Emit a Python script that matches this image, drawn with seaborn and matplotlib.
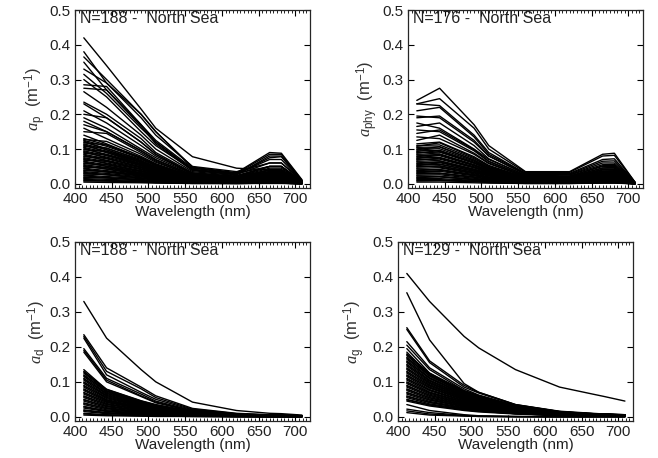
import numpy as np
import pandas as pd
import matplotlib
matplotlib.use("Agg")
import matplotlib.pyplot as plt
from matplotlib.ticker import MultipleLocator, FormatStrFormatter
import seaborn as sns

# band centres (nm)
wavelengths = [412, 443, 490, 510, 560, 620, 665, 681, 709]

# particulate absorption, one row per station
ap_spectra = [
    [0.420, 0.340, 0.215, 0.160, 0.078, 0.045, 0.040, 0.036, 0.008],
    [0.380, 0.290, 0.190, 0.140, 0.050, 0.035, 0.060, 0.060, 0.010],
    [0.365, 0.300, 0.200, 0.150, 0.048, 0.032, 0.090, 0.088, 0.012],
    [0.350, 0.270, 0.170, 0.125, 0.045, 0.030, 0.050, 0.050, 0.008],
    [0.330, 0.290, 0.200, 0.150, 0.046, 0.030, 0.085, 0.085, 0.010],
    [0.315, 0.260, 0.160, 0.120, 0.042, 0.028, 0.070, 0.070, 0.008],
    [0.300, 0.250, 0.150, 0.110, 0.040, 0.027, 0.060, 0.060, 0.007],
    [0.285, 0.280, 0.170, 0.120, 0.040, 0.028, 0.075, 0.078, 0.008],
    [0.275, 0.270, 0.165, 0.115, 0.038, 0.026, 0.080, 0.080, 0.008],
    [0.265, 0.220, 0.140, 0.100, 0.035, 0.024, 0.050, 0.050, 0.006],
    [0.235, 0.200, 0.130, 0.090, 0.032, 0.022, 0.050, 0.050, 0.006],
    [0.230, 0.190, 0.120, 0.085, 0.030, 0.020, 0.045, 0.045, 0.005],
    [0.210, 0.175, 0.110, 0.080, 0.030, 0.020, 0.040, 0.040, 0.005],
    [0.200, 0.190, 0.120, 0.085, 0.028, 0.020, 0.050, 0.050, 0.005],
    [0.190, 0.160, 0.100, 0.075, 0.028, 0.018, 0.040, 0.040, 0.005],
    [0.180, 0.150, 0.095, 0.070, 0.026, 0.017, 0.035, 0.035, 0.004],
    [0.170, 0.150, 0.095, 0.068, 0.025, 0.017, 0.040, 0.040, 0.004],
    [0.160, 0.130, 0.085, 0.062, 0.024, 0.016, 0.030, 0.030, 0.004],
    [0.150, 0.145, 0.090, 0.065, 0.022, 0.015, 0.040, 0.040, 0.004],
    [0.140, 0.115, 0.075, 0.055, 0.022, 0.015, 0.028, 0.028, 0.003],
    [0.130, 0.112, 0.076, 0.056, 0.022, 0.016, 0.030, 0.030, 0.004],
    [0.125, 0.108, 0.073, 0.054, 0.021, 0.015, 0.028, 0.028, 0.004],
    [0.120, 0.102, 0.070, 0.052, 0.020, 0.014, 0.026, 0.026, 0.004],
    [0.115, 0.098, 0.066, 0.049, 0.020, 0.014, 0.025, 0.025, 0.003],
    [0.110, 0.094, 0.064, 0.047, 0.019, 0.013, 0.024, 0.024, 0.003],
    [0.105, 0.090, 0.061, 0.045, 0.018, 0.013, 0.023, 0.023, 0.003],
    [0.100, 0.085, 0.058, 0.043, 0.017, 0.012, 0.022, 0.022, 0.003],
    [0.095, 0.081, 0.055, 0.041, 0.016, 0.011, 0.021, 0.021, 0.003],
    [0.090, 0.077, 0.052, 0.039, 0.015, 0.011, 0.020, 0.020, 0.003],
    [0.085, 0.072, 0.049, 0.037, 0.014, 0.010, 0.019, 0.019, 0.003],
    [0.080, 0.068, 0.046, 0.034, 0.014, 0.010, 0.018, 0.018, 0.002],
    [0.075, 0.064, 0.043, 0.032, 0.013, 0.009, 0.017, 0.017, 0.002],
    [0.070, 0.060, 0.041, 0.030, 0.012, 0.008, 0.015, 0.015, 0.002],
    [0.065, 0.055, 0.038, 0.028, 0.011, 0.008, 0.014, 0.014, 0.002],
    [0.060, 0.051, 0.035, 0.026, 0.010, 0.007, 0.013, 0.013, 0.002],
    [0.055, 0.047, 0.032, 0.024, 0.009, 0.007, 0.012, 0.012, 0.002],
    [0.050, 0.043, 0.029, 0.022, 0.009, 0.006, 0.011, 0.011, 0.002],
    [0.045, 0.038, 0.026, 0.019, 0.008, 0.005, 0.010, 0.010, 0.001],
    [0.040, 0.034, 0.023, 0.017, 0.007, 0.005, 0.009, 0.009, 0.001],
    [0.035, 0.030, 0.020, 0.015, 0.006, 0.004, 0.008, 0.008, 0.001],
    [0.030, 0.026, 0.017, 0.013, 0.005, 0.004, 0.007, 0.007, 0.001],
    [0.025, 0.021, 0.015, 0.011, 0.004, 0.003, 0.006, 0.006, 0.001],
    [0.020, 0.017, 0.012, 0.009, 0.003, 0.002, 0.004, 0.004, 0.001],
    [0.015, 0.013, 0.009, 0.006, 0.003, 0.002, 0.003, 0.003, 0.000],
    [0.010, 0.008, 0.006, 0.004, 0.002, 0.001, 0.002, 0.002, 0.000],
    [0.005, 0.004, 0.003, 0.002, 0.001, 0.001, 0.001, 0.001, 0.000],
    [0.128, 0.122, 0.079, 0.058, 0.020, 0.015, 0.036, 0.036, 0.003],
    [0.118, 0.112, 0.073, 0.053, 0.019, 0.014, 0.033, 0.033, 0.002],
    [0.108, 0.103, 0.067, 0.049, 0.017, 0.013, 0.030, 0.030, 0.002],
    [0.098, 0.093, 0.061, 0.044, 0.016, 0.012, 0.027, 0.027, 0.002],
    [0.088, 0.084, 0.055, 0.040, 0.014, 0.011, 0.025, 0.025, 0.002],
    [0.078, 0.074, 0.048, 0.035, 0.012, 0.009, 0.022, 0.022, 0.002],
    [0.068, 0.065, 0.042, 0.031, 0.011, 0.008, 0.019, 0.019, 0.001],
    [0.058, 0.055, 0.036, 0.026, 0.009, 0.007, 0.016, 0.016, 0.001],
    [0.048, 0.046, 0.030, 0.022, 0.008, 0.006, 0.013, 0.013, 0.001],
    [0.038, 0.036, 0.024, 0.017, 0.006, 0.005, 0.011, 0.011, 0.001],
    [0.028, 0.027, 0.017, 0.013, 0.004, 0.003, 0.008, 0.008, 0.001],
    [0.018, 0.017, 0.011, 0.008, 0.003, 0.002, 0.005, 0.005, 0.000],
    [0.008, 0.008, 0.005, 0.004, 0.001, 0.001, 0.002, 0.002, 0.000],
    [0.123, 0.098, 0.062, 0.047, 0.022, 0.014, 0.018, 0.018, 0.004],
    [0.113, 0.090, 0.057, 0.043, 0.020, 0.012, 0.017, 0.017, 0.003],
    [0.103, 0.082, 0.052, 0.039, 0.019, 0.011, 0.015, 0.015, 0.003],
    [0.093, 0.074, 0.047, 0.035, 0.017, 0.010, 0.014, 0.014, 0.003],
    [0.083, 0.066, 0.042, 0.032, 0.015, 0.009, 0.012, 0.012, 0.002],
    [0.073, 0.058, 0.037, 0.028, 0.013, 0.008, 0.011, 0.011, 0.002],
    [0.063, 0.050, 0.032, 0.024, 0.011, 0.007, 0.009, 0.009, 0.002],
    [0.053, 0.042, 0.027, 0.020, 0.010, 0.006, 0.008, 0.008, 0.002],
    [0.043, 0.034, 0.022, 0.016, 0.008, 0.005, 0.006, 0.006, 0.001],
    [0.033, 0.026, 0.017, 0.013, 0.006, 0.004, 0.005, 0.005, 0.001],
    [0.023, 0.018, 0.012, 0.009, 0.004, 0.003, 0.003, 0.003, 0.001],
    [0.013, 0.010, 0.007, 0.005, 0.002, 0.001, 0.002, 0.002, 0.000],
]

# phytoplankton absorption
aphy_spectra = [
    [0.240, 0.275, 0.170, 0.110, 0.035, 0.035, 0.085, 0.088, 0.005],
    [0.230, 0.245, 0.160, 0.100, 0.033, 0.033, 0.080, 0.082, 0.005],
    [0.230, 0.225, 0.140, 0.090, 0.030, 0.030, 0.070, 0.072, 0.004],
    [0.210, 0.220, 0.135, 0.085, 0.030, 0.028, 0.065, 0.066, 0.004],
    [0.195, 0.190, 0.120, 0.080, 0.028, 0.026, 0.060, 0.060, 0.004],
    [0.190, 0.195, 0.125, 0.080, 0.027, 0.025, 0.055, 0.056, 0.004],
    [0.175, 0.160, 0.100, 0.070, 0.025, 0.022, 0.050, 0.050, 0.003],
    [0.165, 0.175, 0.110, 0.072, 0.024, 0.022, 0.052, 0.053, 0.003],
    [0.155, 0.150, 0.095, 0.064, 0.022, 0.020, 0.045, 0.045, 0.003],
    [0.145, 0.155, 0.098, 0.065, 0.022, 0.020, 0.046, 0.047, 0.003],
    [0.135, 0.130, 0.085, 0.058, 0.020, 0.018, 0.040, 0.040, 0.003],
    [0.125, 0.140, 0.088, 0.060, 0.020, 0.018, 0.042, 0.042, 0.003],
    [0.115, 0.120, 0.078, 0.053, 0.018, 0.017, 0.036, 0.037, 0.002],
    [0.110, 0.112, 0.072, 0.050, 0.018, 0.016, 0.036, 0.037, 0.002],
    [0.105, 0.106, 0.068, 0.047, 0.017, 0.016, 0.035, 0.036, 0.002],
    [0.100, 0.101, 0.065, 0.045, 0.016, 0.015, 0.033, 0.034, 0.002],
    [0.095, 0.096, 0.062, 0.043, 0.015, 0.014, 0.031, 0.032, 0.002],
    [0.090, 0.091, 0.059, 0.041, 0.014, 0.013, 0.030, 0.031, 0.002],
    [0.085, 0.086, 0.055, 0.038, 0.014, 0.013, 0.028, 0.029, 0.002],
    [0.080, 0.081, 0.052, 0.036, 0.013, 0.012, 0.026, 0.027, 0.002],
    [0.075, 0.076, 0.049, 0.034, 0.012, 0.011, 0.025, 0.026, 0.001],
    [0.070, 0.071, 0.046, 0.032, 0.011, 0.010, 0.023, 0.024, 0.001],
    [0.065, 0.066, 0.042, 0.029, 0.010, 0.010, 0.021, 0.022, 0.001],
    [0.060, 0.061, 0.039, 0.027, 0.010, 0.009, 0.020, 0.020, 0.001],
    [0.055, 0.056, 0.036, 0.025, 0.009, 0.008, 0.018, 0.019, 0.001],
    [0.050, 0.051, 0.033, 0.023, 0.008, 0.008, 0.017, 0.017, 0.001],
    [0.045, 0.046, 0.029, 0.020, 0.007, 0.007, 0.015, 0.015, 0.001],
    [0.040, 0.041, 0.026, 0.018, 0.006, 0.006, 0.013, 0.014, 0.001],
    [0.035, 0.036, 0.023, 0.016, 0.006, 0.005, 0.012, 0.012, 0.001],
    [0.030, 0.031, 0.020, 0.014, 0.005, 0.005, 0.010, 0.010, 0.001],
    [0.025, 0.026, 0.016, 0.011, 0.004, 0.004, 0.008, 0.009, 0.000],
    [0.020, 0.021, 0.013, 0.009, 0.003, 0.003, 0.007, 0.007, 0.000],
    [0.015, 0.015, 0.010, 0.007, 0.002, 0.002, 0.005, 0.005, 0.000],
    [0.010, 0.010, 0.007, 0.005, 0.002, 0.002, 0.003, 0.003, 0.000],
    [0.005, 0.005, 0.003, 0.002, 0.001, 0.001, 0.002, 0.002, 0.000],
    [0.108, 0.118, 0.075, 0.051, 0.017, 0.017, 0.040, 0.041, 0.002],
    [0.098, 0.107, 0.068, 0.046, 0.016, 0.015, 0.036, 0.037, 0.002],
    [0.088, 0.096, 0.061, 0.042, 0.014, 0.014, 0.032, 0.033, 0.002],
    [0.078, 0.085, 0.054, 0.037, 0.013, 0.012, 0.029, 0.029, 0.001],
    [0.068, 0.074, 0.047, 0.032, 0.011, 0.011, 0.025, 0.026, 0.001],
    [0.058, 0.063, 0.040, 0.027, 0.009, 0.009, 0.021, 0.022, 0.001],
    [0.048, 0.052, 0.033, 0.023, 0.008, 0.007, 0.018, 0.018, 0.001],
    [0.038, 0.041, 0.026, 0.018, 0.006, 0.006, 0.014, 0.014, 0.001],
    [0.028, 0.030, 0.019, 0.013, 0.005, 0.004, 0.010, 0.011, 0.000],
    [0.018, 0.020, 0.012, 0.008, 0.003, 0.003, 0.007, 0.007, 0.000],
    [0.008, 0.009, 0.006, 0.004, 0.001, 0.001, 0.003, 0.003, 0.000],
    [0.103, 0.093, 0.060, 0.044, 0.017, 0.015, 0.030, 0.031, 0.002],
    [0.093, 0.084, 0.054, 0.040, 0.015, 0.014, 0.027, 0.028, 0.002],
    [0.083, 0.075, 0.048, 0.036, 0.013, 0.012, 0.024, 0.025, 0.002],
    [0.073, 0.066, 0.042, 0.031, 0.012, 0.011, 0.021, 0.022, 0.001],
    [0.063, 0.057, 0.037, 0.027, 0.010, 0.009, 0.018, 0.019, 0.001],
    [0.053, 0.048, 0.031, 0.023, 0.008, 0.008, 0.015, 0.016, 0.001],
    [0.043, 0.039, 0.025, 0.018, 0.007, 0.006, 0.012, 0.013, 0.001],
    [0.033, 0.030, 0.019, 0.014, 0.005, 0.005, 0.010, 0.010, 0.001],
    [0.023, 0.021, 0.013, 0.010, 0.004, 0.003, 0.007, 0.007, 0.000],
    [0.013, 0.012, 0.008, 0.006, 0.002, 0.002, 0.004, 0.004, 0.000],
]

# detrital absorption
ad_spectra = [
    [0.330, 0.225, 0.135, 0.100, 0.042, 0.018, 0.010, 0.009, 0.005],
    [0.235, 0.140, 0.085, 0.060, 0.024, 0.010, 0.006, 0.005, 0.003],
    [0.230, 0.130, 0.080, 0.055, 0.022, 0.009, 0.005, 0.005, 0.003],
    [0.225, 0.120, 0.070, 0.050, 0.020, 0.008, 0.005, 0.004, 0.003],
    [0.195, 0.110, 0.065, 0.045, 0.018, 0.007, 0.004, 0.004, 0.002],
    [0.190, 0.105, 0.060, 0.042, 0.017, 0.007, 0.004, 0.004, 0.002],
    [0.185, 0.100, 0.058, 0.040, 0.016, 0.006, 0.004, 0.003, 0.002],
    [0.135, 0.078, 0.045, 0.034, 0.015, 0.007, 0.004, 0.004, 0.003],
    [0.130, 0.075, 0.043, 0.033, 0.014, 0.007, 0.004, 0.004, 0.003],
    [0.125, 0.073, 0.041, 0.031, 0.014, 0.006, 0.004, 0.004, 0.003],
    [0.120, 0.070, 0.040, 0.030, 0.013, 0.006, 0.004, 0.004, 0.002],
    [0.115, 0.067, 0.038, 0.029, 0.013, 0.006, 0.003, 0.003, 0.002],
    [0.110, 0.064, 0.036, 0.028, 0.012, 0.006, 0.003, 0.003, 0.002],
    [0.105, 0.061, 0.035, 0.026, 0.012, 0.005, 0.003, 0.003, 0.002],
    [0.100, 0.058, 0.033, 0.025, 0.011, 0.005, 0.003, 0.003, 0.002],
    [0.095, 0.055, 0.031, 0.024, 0.010, 0.005, 0.003, 0.003, 0.002],
    [0.090, 0.052, 0.030, 0.023, 0.010, 0.005, 0.003, 0.003, 0.002],
    [0.085, 0.049, 0.028, 0.021, 0.009, 0.004, 0.003, 0.003, 0.002],
    [0.080, 0.046, 0.026, 0.020, 0.009, 0.004, 0.002, 0.002, 0.002],
    [0.075, 0.044, 0.025, 0.019, 0.008, 0.004, 0.002, 0.002, 0.002],
    [0.070, 0.041, 0.023, 0.018, 0.008, 0.004, 0.002, 0.002, 0.001],
    [0.065, 0.038, 0.021, 0.016, 0.007, 0.003, 0.002, 0.002, 0.001],
    [0.060, 0.035, 0.020, 0.015, 0.007, 0.003, 0.002, 0.002, 0.001],
    [0.055, 0.032, 0.018, 0.014, 0.006, 0.003, 0.002, 0.002, 0.001],
    [0.050, 0.029, 0.017, 0.013, 0.006, 0.003, 0.002, 0.002, 0.001],
    [0.045, 0.026, 0.015, 0.011, 0.005, 0.002, 0.001, 0.001, 0.001],
    [0.040, 0.023, 0.013, 0.010, 0.004, 0.002, 0.001, 0.001, 0.001],
    [0.035, 0.020, 0.012, 0.009, 0.004, 0.002, 0.001, 0.001, 0.001],
    [0.030, 0.017, 0.010, 0.008, 0.003, 0.002, 0.001, 0.001, 0.001],
    [0.025, 0.015, 0.008, 0.006, 0.003, 0.001, 0.001, 0.001, 0.000],
    [0.020, 0.012, 0.007, 0.005, 0.002, 0.001, 0.001, 0.001, 0.000],
    [0.015, 0.009, 0.005, 0.004, 0.002, 0.001, 0.000, 0.000, 0.000],
    [0.010, 0.006, 0.003, 0.003, 0.001, 0.001, 0.000, 0.000, 0.000],
    [0.005, 0.003, 0.002, 0.001, 0.001, 0.000, 0.000, 0.000, 0.000],
    [0.128, 0.079, 0.046, 0.035, 0.015, 0.007, 0.004, 0.004, 0.003],
    [0.118, 0.073, 0.042, 0.032, 0.014, 0.006, 0.004, 0.004, 0.002],
    [0.108, 0.067, 0.039, 0.029, 0.013, 0.006, 0.004, 0.003, 0.002],
    [0.098, 0.061, 0.035, 0.026, 0.012, 0.005, 0.003, 0.003, 0.002],
    [0.088, 0.055, 0.032, 0.024, 0.011, 0.005, 0.003, 0.003, 0.002],
    [0.078, 0.048, 0.028, 0.021, 0.009, 0.004, 0.003, 0.002, 0.002],
    [0.068, 0.042, 0.024, 0.018, 0.008, 0.004, 0.002, 0.002, 0.001],
    [0.058, 0.036, 0.021, 0.016, 0.007, 0.003, 0.002, 0.002, 0.001],
    [0.048, 0.030, 0.017, 0.013, 0.006, 0.003, 0.002, 0.001, 0.001],
    [0.038, 0.024, 0.014, 0.010, 0.005, 0.002, 0.001, 0.001, 0.001],
    [0.028, 0.017, 0.010, 0.008, 0.003, 0.002, 0.001, 0.001, 0.001],
    [0.018, 0.011, 0.006, 0.005, 0.002, 0.001, 0.001, 0.001, 0.000],
    [0.008, 0.005, 0.003, 0.002, 0.001, 0.000, 0.000, 0.000, 0.000],
]

# CDOM absorption
ag_spectra = [
    [0.410, 0.330, 0.230, 0.197, 0.135, 0.085, 0.065, 0.058, 0.045],
    [0.355, 0.220, 0.095, 0.070, 0.035, 0.015, 0.008, 0.007, 0.004],
    [0.255, 0.160, 0.090, 0.070, 0.035, 0.016, 0.010, 0.008, 0.005],
    [0.250, 0.155, 0.085, 0.068, 0.034, 0.015, 0.009, 0.008, 0.005],
    [0.215, 0.140, 0.080, 0.062, 0.032, 0.014, 0.009, 0.007, 0.004],
    [0.205, 0.135, 0.075, 0.060, 0.030, 0.013, 0.008, 0.007, 0.004],
    [0.195, 0.125, 0.070, 0.056, 0.028, 0.012, 0.008, 0.007, 0.004],
    [0.185, 0.120, 0.068, 0.054, 0.027, 0.012, 0.007, 0.006, 0.004],
    [0.180, 0.122, 0.072, 0.058, 0.031, 0.014, 0.008, 0.007, 0.005],
    [0.175, 0.119, 0.070, 0.056, 0.030, 0.013, 0.008, 0.007, 0.005],
    [0.170, 0.116, 0.068, 0.054, 0.029, 0.013, 0.008, 0.007, 0.005],
    [0.165, 0.112, 0.066, 0.053, 0.028, 0.012, 0.007, 0.007, 0.005],
    [0.160, 0.109, 0.064, 0.051, 0.027, 0.012, 0.007, 0.006, 0.005],
    [0.155, 0.105, 0.062, 0.050, 0.026, 0.012, 0.007, 0.006, 0.005],
    [0.150, 0.102, 0.060, 0.048, 0.026, 0.011, 0.007, 0.006, 0.005],
    [0.145, 0.099, 0.058, 0.046, 0.025, 0.011, 0.007, 0.006, 0.004],
    [0.140, 0.095, 0.056, 0.045, 0.024, 0.011, 0.006, 0.006, 0.004],
    [0.135, 0.092, 0.054, 0.043, 0.023, 0.010, 0.006, 0.005, 0.004],
    [0.130, 0.088, 0.052, 0.042, 0.022, 0.010, 0.006, 0.005, 0.004],
    [0.125, 0.085, 0.050, 0.040, 0.021, 0.009, 0.006, 0.005, 0.004],
    [0.120, 0.082, 0.048, 0.038, 0.020, 0.009, 0.005, 0.005, 0.004],
    [0.115, 0.078, 0.046, 0.037, 0.020, 0.009, 0.005, 0.005, 0.003],
    [0.110, 0.075, 0.044, 0.035, 0.019, 0.008, 0.005, 0.004, 0.003],
    [0.105, 0.071, 0.042, 0.034, 0.018, 0.008, 0.005, 0.004, 0.003],
    [0.100, 0.068, 0.040, 0.032, 0.017, 0.008, 0.005, 0.004, 0.003],
    [0.095, 0.065, 0.038, 0.030, 0.016, 0.007, 0.004, 0.004, 0.003],
    [0.090, 0.061, 0.036, 0.029, 0.015, 0.007, 0.004, 0.004, 0.003],
    [0.085, 0.058, 0.034, 0.027, 0.014, 0.006, 0.004, 0.003, 0.003],
    [0.080, 0.054, 0.032, 0.026, 0.014, 0.006, 0.004, 0.003, 0.002],
    [0.075, 0.051, 0.030, 0.024, 0.013, 0.006, 0.003, 0.003, 0.002],
    [0.070, 0.048, 0.028, 0.022, 0.012, 0.005, 0.003, 0.003, 0.002],
    [0.065, 0.044, 0.026, 0.021, 0.011, 0.005, 0.003, 0.003, 0.002],
    [0.060, 0.041, 0.024, 0.019, 0.010, 0.005, 0.003, 0.002, 0.002],
    [0.055, 0.037, 0.022, 0.018, 0.009, 0.004, 0.002, 0.002, 0.002],
    [0.050, 0.034, 0.020, 0.016, 0.009, 0.004, 0.002, 0.002, 0.002],
    [0.045, 0.031, 0.018, 0.014, 0.008, 0.003, 0.002, 0.002, 0.001],
    [0.178, 0.125, 0.075, 0.061, 0.032, 0.014, 0.009, 0.008, 0.006],
    [0.168, 0.118, 0.071, 0.057, 0.030, 0.013, 0.008, 0.008, 0.006],
    [0.158, 0.111, 0.066, 0.054, 0.028, 0.013, 0.008, 0.007, 0.006],
    [0.148, 0.104, 0.062, 0.050, 0.027, 0.012, 0.007, 0.007, 0.005],
    [0.138, 0.097, 0.058, 0.047, 0.025, 0.011, 0.007, 0.006, 0.005],
    [0.128, 0.090, 0.054, 0.044, 0.023, 0.010, 0.006, 0.006, 0.004],
    [0.118, 0.083, 0.050, 0.040, 0.021, 0.009, 0.006, 0.005, 0.004],
    [0.108, 0.076, 0.045, 0.037, 0.019, 0.009, 0.005, 0.005, 0.004],
    [0.098, 0.069, 0.041, 0.033, 0.018, 0.008, 0.005, 0.004, 0.003],
    [0.088, 0.062, 0.037, 0.030, 0.016, 0.007, 0.004, 0.004, 0.003],
    [0.078, 0.055, 0.033, 0.027, 0.014, 0.006, 0.004, 0.004, 0.003],
    [0.068, 0.048, 0.029, 0.023, 0.012, 0.005, 0.003, 0.003, 0.002],
    [0.058, 0.041, 0.024, 0.020, 0.010, 0.005, 0.003, 0.003, 0.002],
    [0.048, 0.034, 0.020, 0.016, 0.009, 0.004, 0.002, 0.002, 0.002],
    [0.035, 0.018, 0.006, 0.003, 0.001, 0.000, 0.000, 0.000, 0.000],
    [0.022, 0.012, 0.004, 0.002, 0.001, 0.000, 0.000, 0.000, 0.000],
    [0.017, 0.008, 0.003, 0.001, 0.000, 0.000, 0.000, 0.000, 0.000],
    [0.012, 0.005, 0.002, 0.001, 0.000, 0.000, 0.000, 0.000, 0.000],
]

panel_counts = [188, 176, 188, 129]
panel_region = "North Sea"
panel_subscripts = ["p", "phy", "d", "g"]

sns.set_style("ticks")
plt.rcParams["font.family"] = ["Liberation Sans", "DejaVu Sans"]
plt.rcParams["mathtext.fontset"] = "custom"
plt.rcParams["mathtext.rm"] = "Liberation Sans"
plt.rcParams["mathtext.it"] = "Liberation Serif:italic"

fig = plt.figure(figsize=(6.58, 4.58), dpi=100)
# left, top, right, bottom in pixels
boxes = [(75, 10, 310, 188), (408, 10, 643, 188),
         (75, 242, 310, 421), (398, 242, 633, 421)]
ylabel_x = [-0.115, -0.12, -0.115, -0.13]
all_spectra = [ap_spectra, aphy_spectra, ad_spectra, ag_spectra]

for i, spectra in enumerate(all_spectra):
    l, t, r, b = boxes[i]
    ax = fig.add_axes([l / 658, 1 - b / 458, (r - l) / 658, (b - t) / 458])
    df = pd.DataFrame(spectra, columns=wavelengths)
    df["station"] = np.arange(len(df))
    long = df.melt(id_vars="station", var_name="wl", value_name="a")
    long["wl"] = long["wl"].astype(float)
    sns.lineplot(data=long, x="wl", y="a", units="station", estimator=None,
                 color="black", linewidth=1.0, legend=False, ax=ax)

    ax.set_xlim(400, 720)
    ax.set_ylim(-0.012, 0.5)
    ax.xaxis.set_major_locator(MultipleLocator(50))
    ax.xaxis.set_minor_locator(MultipleLocator(5))
    ax.yaxis.set_major_locator(MultipleLocator(0.1))
    ax.yaxis.set_major_formatter(FormatStrFormatter("%.1f"))
    ax.tick_params(which="both", direction="in", top=True, right=True,
                   labelsize=11, colors="black", labelcolor="#222222", pad=3)
    ax.tick_params(which="major", length=4.5, width=0.8)
    ax.tick_params(which="minor", length=2, width=0.6)
    for s in ax.spines.values():
        s.set_linewidth(0.9)

    ax.set_xlabel("Wavelength (nm)", fontsize=11, color="#222222", labelpad=-1)
    ax.set_ylabel("$a_{\\mathrm{%s}}$  (m$^{-1}$)" % panel_subscripts[i],
                  fontsize=12, color="#333333")
    ax.yaxis.set_label_coords(ylabel_x[i], 0.5)
    ax.text(0.02, 0.995, "N=%d -  %s" % (panel_counts[i], panel_region),
            transform=ax.transAxes, ha="left", va="top", fontsize=11.5,
            color="#222222")

fig.savefig("out.png", dpi=100)
